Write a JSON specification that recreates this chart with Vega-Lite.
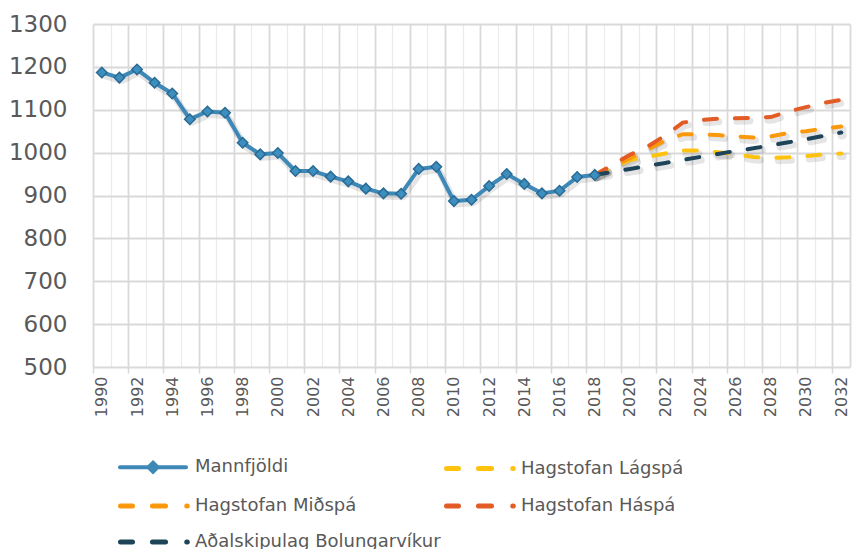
{
  "$schema": "https://vega.github.io/schema/vega-lite/v6.json",
  "width": 757,
  "height": 343,
  "autosize": {"type": "none"},
  "padding": {"left": 93, "top": 24, "right": 2, "bottom": 182},
  "background": "white",
  "config": {
    "view": {"stroke": null},
    "font": "DejaVu Sans"
  },
  "data": {
    "values": [
      {"year": 1990, "series": "Mannfjöldi", "value": 1187},
      {"year": 1991, "series": "Mannfjöldi", "value": 1175},
      {"year": 1992, "series": "Mannfjöldi", "value": 1194},
      {"year": 1993, "series": "Mannfjöldi", "value": 1163},
      {"year": 1994, "series": "Mannfjöldi", "value": 1138},
      {"year": 1995, "series": "Mannfjöldi", "value": 1078},
      {"year": 1996, "series": "Mannfjöldi", "value": 1096},
      {"year": 1997, "series": "Mannfjöldi", "value": 1093},
      {"year": 1998, "series": "Mannfjöldi", "value": 1023},
      {"year": 1999, "series": "Mannfjöldi", "value": 996},
      {"year": 2000, "series": "Mannfjöldi", "value": 999},
      {"year": 2001, "series": "Mannfjöldi", "value": 957},
      {"year": 2002, "series": "Mannfjöldi", "value": 957},
      {"year": 2003, "series": "Mannfjöldi", "value": 944},
      {"year": 2004, "series": "Mannfjöldi", "value": 933},
      {"year": 2005, "series": "Mannfjöldi", "value": 916},
      {"year": 2006, "series": "Mannfjöldi", "value": 905},
      {"year": 2007, "series": "Mannfjöldi", "value": 904},
      {"year": 2008, "series": "Mannfjöldi", "value": 962},
      {"year": 2009, "series": "Mannfjöldi", "value": 967},
      {"year": 2010, "series": "Mannfjöldi", "value": 887},
      {"year": 2011, "series": "Mannfjöldi", "value": 890},
      {"year": 2012, "series": "Mannfjöldi", "value": 922},
      {"year": 2013, "series": "Mannfjöldi", "value": 950},
      {"year": 2014, "series": "Mannfjöldi", "value": 927},
      {"year": 2015, "series": "Mannfjöldi", "value": 905},
      {"year": 2016, "series": "Mannfjöldi", "value": 911},
      {"year": 2017, "series": "Mannfjöldi", "value": 943},
      {"year": 2018, "series": "Mannfjöldi", "value": 948},
      {"year": 2018, "series": "Hagstofan Lágspá", "value": 948},
      {"year": 2019, "series": "Hagstofan Lágspá", "value": 965},
      {"year": 2020, "series": "Hagstofan Lágspá", "value": 983},
      {"year": 2021, "series": "Hagstofan Lágspá", "value": 990},
      {"year": 2022, "series": "Hagstofan Lágspá", "value": 998},
      {"year": 2023, "series": "Hagstofan Lágspá", "value": 1005},
      {"year": 2024, "series": "Hagstofan Lágspá", "value": 1005},
      {"year": 2025, "series": "Hagstofan Lágspá", "value": 1001},
      {"year": 2026, "series": "Hagstofan Lágspá", "value": 996},
      {"year": 2027, "series": "Hagstofan Lágspá", "value": 990},
      {"year": 2028, "series": "Hagstofan Lágspá", "value": 988},
      {"year": 2029, "series": "Hagstofan Lágspá", "value": 989},
      {"year": 2030, "series": "Hagstofan Lágspá", "value": 992},
      {"year": 2031, "series": "Hagstofan Lágspá", "value": 996},
      {"year": 2032, "series": "Hagstofan Lágspá", "value": 998},
      {"year": 2018, "series": "Hagstofan Miðspá", "value": 948},
      {"year": 2019, "series": "Hagstofan Miðspá", "value": 967},
      {"year": 2020, "series": "Hagstofan Miðspá", "value": 987},
      {"year": 2021, "series": "Hagstofan Miðspá", "value": 1007},
      {"year": 2022, "series": "Hagstofan Miðspá", "value": 1028},
      {"year": 2023, "series": "Hagstofan Miðspá", "value": 1043},
      {"year": 2024, "series": "Hagstofan Miðspá", "value": 1043},
      {"year": 2025, "series": "Hagstofan Miðspá", "value": 1041},
      {"year": 2026, "series": "Hagstofan Miðspá", "value": 1038},
      {"year": 2027, "series": "Hagstofan Miðspá", "value": 1035},
      {"year": 2028, "series": "Hagstofan Miðspá", "value": 1038},
      {"year": 2029, "series": "Hagstofan Miðspá", "value": 1046},
      {"year": 2030, "series": "Hagstofan Miðspá", "value": 1050},
      {"year": 2031, "series": "Hagstofan Miðspá", "value": 1056},
      {"year": 2032, "series": "Hagstofan Miðspá", "value": 1061},
      {"year": 2018, "series": "Hagstofan Háspá", "value": 948},
      {"year": 2019, "series": "Hagstofan Háspá", "value": 971},
      {"year": 2020, "series": "Hagstofan Háspá", "value": 995},
      {"year": 2021, "series": "Hagstofan Háspá", "value": 1014},
      {"year": 2022, "series": "Hagstofan Háspá", "value": 1040},
      {"year": 2023, "series": "Hagstofan Háspá", "value": 1070},
      {"year": 2024, "series": "Hagstofan Háspá", "value": 1076},
      {"year": 2025, "series": "Hagstofan Háspá", "value": 1079},
      {"year": 2026, "series": "Hagstofan Háspá", "value": 1080},
      {"year": 2027, "series": "Hagstofan Háspá", "value": 1081},
      {"year": 2028, "series": "Hagstofan Háspá", "value": 1083},
      {"year": 2029, "series": "Hagstofan Háspá", "value": 1096},
      {"year": 2030, "series": "Hagstofan Háspá", "value": 1106},
      {"year": 2031, "series": "Hagstofan Háspá", "value": 1116},
      {"year": 2032, "series": "Hagstofan Háspá", "value": 1123},
      {"year": 2018, "series": "Aðalskipulag Bolungarvíkur", "value": 948},
      {"year": 2019, "series": "Aðalskipulag Bolungarvíkur", "value": 955},
      {"year": 2020, "series": "Aðalskipulag Bolungarvíkur", "value": 962},
      {"year": 2021, "series": "Aðalskipulag Bolungarvíkur", "value": 969},
      {"year": 2022, "series": "Aðalskipulag Bolungarvíkur", "value": 976},
      {"year": 2023, "series": "Aðalskipulag Bolungarvíkur", "value": 983},
      {"year": 2024, "series": "Aðalskipulag Bolungarvíkur", "value": 990},
      {"year": 2025, "series": "Aðalskipulag Bolungarvíkur", "value": 997},
      {"year": 2026, "series": "Aðalskipulag Bolungarvíkur", "value": 1004},
      {"year": 2027, "series": "Aðalskipulag Bolungarvíkur", "value": 1010},
      {"year": 2028, "series": "Aðalskipulag Bolungarvíkur", "value": 1017},
      {"year": 2029, "series": "Aðalskipulag Bolungarvíkur", "value": 1024},
      {"year": 2030, "series": "Aðalskipulag Bolungarvíkur", "value": 1031},
      {"year": 2031, "series": "Aðalskipulag Bolungarvíkur", "value": 1039},
      {"year": 2032, "series": "Aðalskipulag Bolungarvíkur", "value": 1047}
    ]
  },
  "encoding": {
    "x": {
      "field": "year",
      "type": "quantitative",
      "scale": {"domain": [1989.5, 2032.5], "nice": false, "zero": false},
      "axis": {
        "title": null,
        "values": [1989.5, 1990, 1990.5, 1991.5, 1992, 1992.5, 1993.5, 1994, 1994.5, 1995.5, 1996, 1996.5, 1997.5, 1998, 1998.5, 1999.5, 2000, 2000.5, 2001.5, 2002, 2002.5, 2003.5, 2004, 2004.5, 2005.5, 2006, 2006.5, 2007.5, 2008, 2008.5, 2009.5, 2010, 2010.5, 2011.5, 2012, 2012.5, 2013.5, 2014, 2014.5, 2015.5, 2016, 2016.5, 2017.5, 2018, 2018.5, 2019.5, 2020, 2020.5, 2021.5, 2022, 2022.5, 2023.5, 2024, 2024.5, 2025.5, 2026, 2026.5, 2027.5, 2028, 2028.5, 2029.5, 2030, 2030.5, 2031.5, 2032, 2032.5],
        "labelExpr": "datum.value % 1 === 0 ? format(datum.value, 'd') : ''",
        "labelAngle": -90,
        "labelFontSize": 16,
        "labelColor": "#595959",
        "labelFont": "DejaVu Sans",
        "labelPadding": 3,
        "labelOverlap": false,
        "labelFlush": false,
        "domain": false,
        "tickSize": 6,
        "tickColor": "#d9d9d9",
        "tickWidth": 1.5,
        "tickOpacity": {"condition": {"test": "(datum.value + 0.5) % 2 === 0", "value": 1}, "value": 0},
        "grid": true,
        "gridColor": {"condition": {"test": "(datum.value + 0.5) % 2 === 0 || datum.value === 2032.5", "value": "#d9d9d9"}, "value": "#ebebeb"},
        "gridWidth": {"condition": {"test": "(datum.value + 0.5) % 2 === 0 || datum.value === 2032.5", "value": 1.8}, "value": 1.2},
        "gridOpacity": {"condition": {"test": "datum.value % 1 === 0", "value": 0}, "value": 1}
      }
    },
    "y": {
      "field": "value",
      "type": "quantitative",
      "scale": {"domain": [500, 1300], "nice": false, "zero": false},
      "axis": {
        "title": null,
        "format": "d",
        "values": [500, 600, 700, 800, 900, 1000, 1100, 1200, 1300],
        "labelFontSize": 23,
        "labelColor": "#595959",
        "labelFont": "DejaVu Sans",
        "labelPadding": 26,
        "ticks": false,
        "domain": false,
        "grid": true,
        "gridColor": "#d9d9d9",
        "gridWidth": 1.8
      }
    }
  },
  "layer": [
    {
      "transform": [{"filter": "datum.series === 'Mannfjöldi'"}],
      "mark": {"type": "line", "strokeWidth": 7, "color": "#000000", "opacity": 0.1, "xOffset": 2, "yOffset": 3, "strokeCap": "round", "strokeJoin": "round"}
    },
    {
      "transform": [{"filter": "datum.series !== 'Mannfjöldi'"}],
      "mark": {"type": "line", "strokeWidth": 7, "color": "#000000", "opacity": 0.1, "xOffset": 2, "yOffset": 3, "strokeCap": "round", "strokeDash": [13, 18]},
      "encoding": {"detail": {"field": "series"}}
    },
    {
      "transform": [{"filter": "datum.series === 'Mannfjöldi'"}],
      "mark": {"type": "line", "strokeWidth": 4, "strokeCap": "round", "strokeJoin": "round"},
      "encoding": {
        "color": {
          "field": "series",
          "type": "nominal",
          "scale": {
            "domain": ["Mannfjöldi", "Hagstofan Lágspá", "Hagstofan Miðspá", "Hagstofan Háspá", "Aðalskipulag Bolungarvíkur"],
            "range": ["#3d88b6", "#ffc20e", "#fb990c", "#e35b25", "#1d4459"]
          },
          "legend": {
            "title": null,
            "orient": "none",
            "legendX": 25,
            "legendY": 434,
            "columns": 2,
            "direction": "horizontal",
            "padding": 0,
            "symbolSize": 324,
            "labelFontSize": 18,
            "labelFont": "DejaVu Sans",
            "labelColor": "#595959",
            "labelOffset": 59,
            "labelLimit": 400,
            "columnPadding": -5,
            "rowPadding": 16,
            "symbolOffset": 0,
            "encode": {
              "symbols": {
                "update": {
                  "shape": {"signal": "datum.value === 'Mannfjöldi' ? 'M-0.78,0L6.56,0M2.89,-0.5L3.39,0L2.89,0.5L2.39,0Z' : 'M-0.72,0L0.61,0M2.83,0L4.28,0M6.64,0L6.7,0'"},
                  "strokeWidth": {"signal": "datum.value === 'Mannfjöldi' ? 4 : 5"},
                  "strokeCap": {"value": "round"},
                  "strokeDash": {"value": []},
                  "stroke": {"scale": "color", "field": "value"},
                  "fill": {"scale": "color", "field": "value"},
                  "opacity": {"value": 1}
                }
              }
            }
          }
        }
      }
    },
    {
      "transform": [{"filter": "datum.series !== 'Mannfjöldi'"}],
      "mark": {"type": "line", "strokeWidth": 4, "strokeCap": "round", "strokeDash": [13, 18]},
      "encoding": {
        "color": {"field": "series", "type": "nominal"}
      }
    },
    {
      "transform": [{"filter": "datum.series === 'Mannfjöldi'"}],
      "mark": {"type": "point", "shape": "diamond", "size": 110, "filled": true, "color": "#3d8fc0", "stroke": "#2a6a93", "strokeWidth": 1.5, "opacity": 1}
    }
  ]
}
